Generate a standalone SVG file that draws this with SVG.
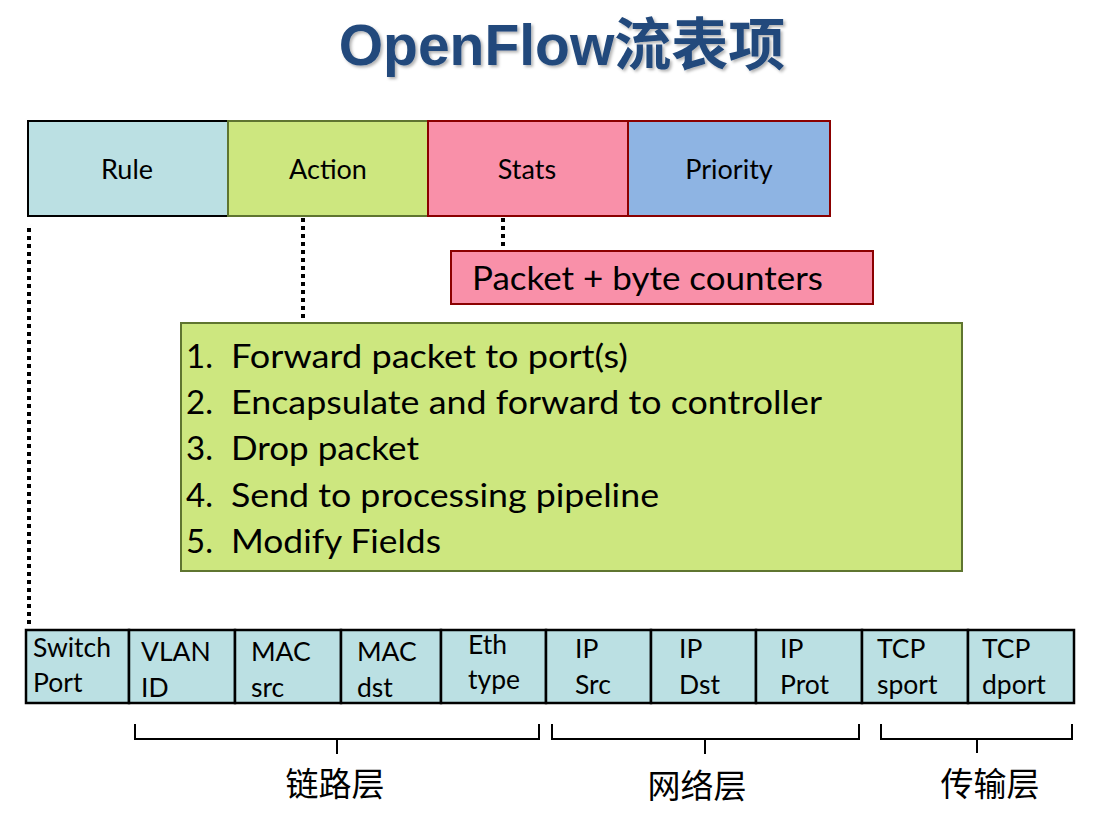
<svg xmlns="http://www.w3.org/2000/svg" width="1099" height="813" viewBox="0 0 1099 813">
<defs>
<filter id="sh" x="-5%" y="-20%" width="110%" height="140%">
<feDropShadow dx="2" dy="2" stdDeviation="1.5" flood-color="#000" flood-opacity="0.3"/>
</filter>
</defs>
<style>
text{font-family:Lato,"Noto Sans","Noto Sans CJK SC",sans-serif;fill:#000}
.title{font-family:"Liberation Sans","Noto Sans CJK SC",sans-serif;font-weight:bold;font-size:57px;fill:#22497C}
.hdr{font-size:27px;text-anchor:middle}
.cell{font-size:26.5px}
.lst{font-size:33px}
.cn{font-family:"Noto Sans CJK SC",sans-serif;font-size:33px;text-anchor:middle}
.blue{fill:#BBE0E3;stroke:#000;stroke-width:2.5}
.green{fill:#CDE77F;stroke:#5F7530;stroke-width:2}
.pink{fill:#F990A9;stroke:#8B0000;stroke-width:2}
.prio{fill:#8EB4E3;stroke:#8B0000;stroke-width:2}
.dot{stroke:#000;stroke-width:4;stroke-dasharray:4 4;fill:none}
.br{stroke:#000;stroke-width:2;fill:none}
</style>
<text class="title" x="562" y="65" text-anchor="middle" filter="url(#sh)">OpenFlow流表项</text>

<g id="connectors">
<line class="dot" x1="29" y1="228" x2="29" y2="626"/>
<line class="dot" x1="303" y1="218" x2="303" y2="322"/>
<line class="dot" x1="503" y1="218" x2="503" y2="250"/>
</g>

<g id="rule"><rect class="blue" x="28" y="121" width="200" height="95" style="stroke-width:2"/><text class="hdr" x="127" y="179">Rule</text></g>
<g id="action"><rect class="green" x="228" y="121" width="200" height="95"/><text class="hdr" x="328" y="179">Action</text></g>
<g id="stats"><rect class="pink" x="428" y="121" width="200" height="95"/><text class="hdr" x="527" y="179">Stats</text></g>
<g id="priority"><rect class="prio" x="628" y="121" width="202" height="95"/><text class="hdr" x="729" y="179">Priority</text></g>

<g id="counters"><rect class="pink" x="451" y="251" width="422" height="53"/><text x="472" y="290" style="font-size:33px" textLength="351" lengthAdjust="spacingAndGlyphs">Packet + byte counters</text></g>

<g id="actions">
<rect class="green" x="181" y="323" width="781" height="248"/>
<text class="lst" x="186" y="368">1.</text><text class="lst" x="231" y="368" textLength="397" lengthAdjust="spacingAndGlyphs">Forward packet to port(s)</text>
<text class="lst" x="186" y="414">2.</text><text class="lst" x="231" y="414" textLength="591" lengthAdjust="spacingAndGlyphs">Encapsulate and forward to controller</text>
<text class="lst" x="186" y="460">3.</text><text class="lst" x="231" y="460" textLength="188" lengthAdjust="spacingAndGlyphs">Drop packet</text>
<text class="lst" x="186" y="507">4.</text><text class="lst" x="231" y="507" textLength="428" lengthAdjust="spacingAndGlyphs">Send to processing pipeline</text>
<text class="lst" x="186" y="553">5.</text><text class="lst" x="231" y="553" textLength="210" lengthAdjust="spacingAndGlyphs">Modify Fields</text>
</g>

<g id="f-switchport"><rect class="blue" x="26" y="630" width="103" height="73"/><text class="cell" x="33" y="657">Switch</text><text class="cell" x="33" y="692">Port</text></g>
<g id="f-vlan"><rect class="blue" x="129" y="630" width="106" height="73"/><text class="cell" x="141" y="661">VLAN</text><text class="cell" x="141" y="697">ID</text></g>
<g id="f-macsrc"><rect class="blue" x="235" y="630" width="106" height="73"/><text class="cell" x="251" y="661">MAC</text><text class="cell" x="251" y="697">src</text></g>
<g id="f-macdst"><rect class="blue" x="341" y="630" width="100" height="73"/><text class="cell" x="357" y="661">MAC</text><text class="cell" x="357" y="697">dst</text></g>
<g id="f-eth"><rect class="blue" x="441" y="630" width="105" height="73"/><text class="cell" x="468" y="654">Eth</text><text class="cell" x="468" y="689">type</text></g>
<g id="f-ipsrc"><rect class="blue" x="546" y="630" width="105" height="73"/><text class="cell" x="575" y="658">IP</text><text class="cell" x="575" y="694">Src</text></g>
<g id="f-ipdst"><rect class="blue" x="651" y="630" width="105" height="73"/><text class="cell" x="679" y="658">IP</text><text class="cell" x="679" y="694">Dst</text></g>
<g id="f-ipprot"><rect class="blue" x="756" y="630" width="106" height="73"/><text class="cell" x="780" y="658">IP</text><text class="cell" x="780" y="694">Prot</text></g>
<g id="f-sport"><rect class="blue" x="862" y="630" width="106" height="73"/><text class="cell" x="877" y="658">TCP</text><text class="cell" x="877" y="694">sport</text></g>
<g id="f-dport"><rect class="blue" x="968" y="630" width="106" height="73"/><text class="cell" x="982" y="658">TCP</text><text class="cell" x="982" y="694">dport</text></g>

<g id="layers">
<path class="br" d="M135 724V739H539V724M337 739V754"/>
<path class="br" d="M552 724V739H859V724M705 739V754"/>
<path class="br" d="M881 724V739H1072V724M977 739V753"/>
<text class="cn" x="335" y="796">链路层</text>
<text class="cn" x="697" y="798">网络层</text>
<text class="cn" x="990" y="796">传输层</text>
</g>
</svg>
